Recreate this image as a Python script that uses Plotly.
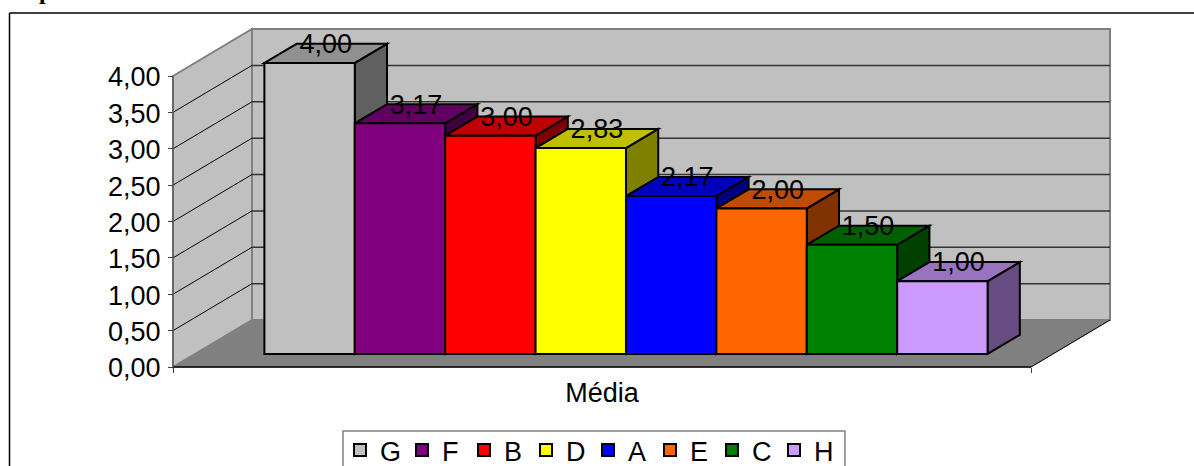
import plotly.graph_objects as go

# Series of the 3-D column chart, already sorted by mean
CATEGORIES = ["G", "F", "B", "D", "A", "E", "C", "H"]
VALUES = [4.00, 3.17, 3.00, 2.83, 2.17, 2.00, 1.50, 1.00]
COLORS = ["#C0C0C0", "#800080", "#FF0000", "#FFFF00", "#0000FF", "#FF6600", "#008000", "#CC99FF"]
GROUP_LABEL = ["Média"]
VALUE_TICKS = [0, 0.5, 1, 1.5, 2, 2.5, 3, 3.5, 4]

FONT = "Liberation Sans"
FONT_SIZE = 27

# Canvas and plot-area frame, in pixels
WIDTH, HEIGHT = 1194, 466
L, R, T, B = 160, 1120, 20, 380
ORIGIN_X, ORIGIN_Y = 173, 367
PX_PER_SLOT = 90.4
PX_PER_UNIT = 72.75

# Oblique projection: one full depth moves a point right and up
FLOOR_W = 858 / PX_PER_SLOT
DEPTH_X = 79 / PX_PER_SLOT
DEPTH_Y = 47 / PX_PER_UNIT
BAR_Z0, BAR_Z1 = 0.277, 0.685
BAR_START = 69.5 / PX_PER_SLOT
VMAX = VALUE_TICKS[-1]


def project(x, v, z=0.0):
    return x + z * DEPTH_X, v + z * DEPTH_Y


def shade(hex_color, k):
    rgb = [int(hex_color[i:i + 2], 16) for i in (1, 3, 5)]
    return "#" + "".join(f"{round(c * k):02X}" for c in rgb)


def polygon(points, fill, line_color="black", line_width=2):
    path = "M" + "L".join(f"{x},{y}" for x, y in points) + "Z"
    return dict(type="path", path=path, xref="x", yref="y", layer="below",
                fillcolor=fill, line=dict(color=line_color, width=line_width))


def segment(p, q, color, width):
    return dict(type="line", xref="x", yref="y", layer="below",
                x0=p[0], y0=p[1], x1=q[0], y1=q[1], line=dict(color=color, width=width))


def paper_x(px):
    return (px - L) / (R - L)


def paper_y(py):
    return (B - py) / (B - T)


shapes = []

# Walls and floor
shapes.append(polygon([project(0, 0, 1), project(FLOOR_W, 0, 1), project(FLOOR_W, VMAX, 1), project(0, VMAX, 1)],
                      "#C0C0C0", "#808080", 2))
shapes.append(polygon([project(0, 0), project(0, 0, 1), project(0, VMAX, 1), project(0, VMAX)],
                      "#C0C0C0", "#808080", 2))
shapes.append(polygon([project(0, 0), project(FLOOR_W, 0), project(FLOOR_W, 0, 1), project(0, 0, 1)],
                      "#808080", "#808080", 1))

# Gridlines run along the side wall and across the back wall
for v in VALUE_TICKS[1:-1]:
    shapes.append(segment(project(0, v), project(0, v, 1), "#000000", 1))
    shapes.append(segment(project(0, v, 1), project(FLOOR_W, v, 1), "#333333", 1.5))

# Front edges of the floor and the value axis line
shapes.append(segment(project(0, 0), project(FLOOR_W, 0), "#000000", 1.5))
shapes.append(segment(project(FLOOR_W, 0), project(FLOOR_W, 0, 1), "#000000", 1))
shapes.append(segment(project(0, 0), project(0, VMAX), "#606060", 1.5))

# Top and side faces; front faces come from the bar traces above them
for i, (v, c) in enumerate(zip(VALUES, COLORS)):
    x0, x1 = BAR_START + i, BAR_START + i + 1
    shapes.append(polygon([project(x1, 0, BAR_Z0), project(x1, 0, BAR_Z1), project(x1, v, BAR_Z1), project(x1, v, BAR_Z0)],
                          shade(c, 0.5)))
    shapes.append(polygon([project(x0, v, BAR_Z0), project(x1, v, BAR_Z0), project(x1, v, BAR_Z1), project(x0, v, BAR_Z1)],
                          shade(c, 0.75)))

# Chart frame, running off the canvas on the right and at the bottom
shapes.append(dict(type="line", xref="paper", yref="paper", layer="above",
                   x0=paper_x(9.5), x1=paper_x(WIDTH + 5), y0=paper_y(13), y1=paper_y(13),
                   line=dict(color="black", width=1.5)))
shapes.append(dict(type="line", xref="paper", yref="paper", layer="above",
                   x0=paper_x(9.5), x1=paper_x(9.5), y0=paper_y(13), y1=paper_y(HEIGHT + 5),
                   line=dict(color="black", width=1.5)))

# Legend frame, open past the bottom of the canvas
shapes.append(dict(type="rect", xref="paper", yref="paper", layer="below",
                   x0=paper_x(343), x1=paper_x(845), y0=paper_y(431), y1=paper_y(HEIGHT + 5),
                   fillcolor="white", line=dict(color="#808080", width=1.5)))

fig = go.Figure()

front_x_shift = BAR_Z0 * DEPTH_X
front_base = BAR_Z0 * DEPTH_Y
for i, (name, v, c) in enumerate(zip(CATEGORIES, VALUES, COLORS)):
    fig.add_trace(go.Bar(
        name=name, x=[BAR_START + i + 0.5 + front_x_shift], y=[v], base=[front_base], width=[1],
        marker=dict(color=c, line=dict(color="black", width=2)),
        hovertemplate=f"{name}: {v:.2f}<extra></extra>",
    ))

# Value labels sit over the middle of each column's top face
mid_z = (BAR_Z0 + BAR_Z1) / 2
LABEL_LIFT = 7 / PX_PER_UNIT
label_pts = [project(BAR_START + i + 0.5, v + LABEL_LIFT, mid_z) for i, v in enumerate(VALUES)]
fig.add_trace(go.Scatter(
    x=[p[0] for p in label_pts], y=[p[1] for p in label_pts], mode="text",
    text=[f"{v:.2f}".replace(".", ",") for v in VALUES], textposition="middle center",
    textfont=dict(family=FONT, size=FONT_SIZE, color="black"),
    showlegend=False, hoverinfo="skip",
))

fig.update_layout(
    width=WIDTH, height=HEIGHT, autosize=False,
    margin=dict(l=L, r=WIDTH - R, t=T, b=HEIGHT - B, pad=0, autoexpand=False),
    paper_bgcolor="white", plot_bgcolor="rgba(0,0,0,0)",
    separators=",.", barmode="overlay", shapes=shapes,
    font=dict(family=FONT, size=FONT_SIZE, color="black"),
    xaxis=dict(
        range=[(L - ORIGIN_X) / PX_PER_SLOT, (R - ORIGIN_X) / PX_PER_SLOT],
        anchor="free", position=(B - ORIGIN_Y) / (B - T),
        showgrid=False, zeroline=False, showline=False,
        tickmode="array", tickvals=[FLOOR_W / 2], ticktext=GROUP_LABEL, ticks="", ticklabelstandoff=7,
        minor=dict(tickmode="array", tickvals=[0, FLOOR_W], ticks="outside", ticklen=5, tickwidth=1, tickcolor="#404040"),
    ),
    yaxis=dict(
        range=[(ORIGIN_Y - B) / PX_PER_UNIT, (ORIGIN_Y - T) / PX_PER_UNIT],
        anchor="free", position=(ORIGIN_X - L) / (R - L),
        showgrid=False, zeroline=False, showline=False,
        tickmode="array", tickvals=VALUE_TICKS, tickformat=".2f",
        ticks="outside", ticklen=5, tickwidth=1, tickcolor="#404040",
        ticklabelstandoff=2, ticklabelshift=1,
    ),
    legend=dict(
        orientation="h", x=paper_x(340), xanchor="left", y=paper_y(426), yanchor="top",
        bgcolor="rgba(0,0,0,0)", borderwidth=0,
        entrywidth=17, entrywidthmode="pixels", itemclick=False, itemdoubleclick=False,
        font=dict(family=FONT, size=FONT_SIZE, color="black"),
    ),
    showlegend=True,
    annotations=[dict(
        text="<b>p</b>", xref="paper", yref="paper", x=paper_x(45), y=paper_y(-9),
        xanchor="center", yanchor="middle", showarrow=False,
        font=dict(family="Liberation Serif", size=24, color="black"),
    )],
)

fig.write_html("out.html")
